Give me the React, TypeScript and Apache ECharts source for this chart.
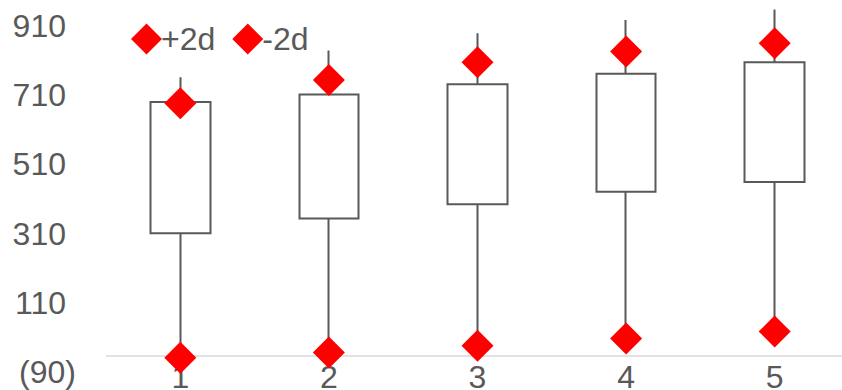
import React, { useEffect, useRef } from "react";
import * as echarts from "echarts";

const categories = ["1", "2", "3", "4", "5"];
// candlestick style: [boxBottom, boxTop, whiskerLow, whiskerHigh]
const boxBottom = [311, 354, 395, 431, 459];
const boxTop = [690, 712, 742, 772, 805];
const whiskerLow = [-49, -34, -14, 7, 27];
const whiskerHigh = [762, 839, 889, 927, 958];
const plus2d = [687, 754, 805, 836, 860];
const minus2d = [-49, -34, -14, 7, 27];
const yTicks = [-90, 110, 310, 510, 710, 910];
const axisCross = -44;

const FONT = "'Liberation Sans', Arial, sans-serif";
const TEXT = "#595959";
const FS = 32;

export default function App() {
  const ref = useRef<HTMLDivElement>(null);
  useEffect(() => {
    if (!ref.current) return;
    const chart = echarts.init(ref.current, null, { renderer: "svg" });
    const candle = categories.map((_, i) => [boxBottom[i], boxTop[i], whiskerLow[i], whiskerHigh[i]]);
    chart.setOption({
      animation: false,
      textStyle: { fontFamily: FONT },
      legend: {
        data: ["+2d", "-2d"],
        left: 126,
        top: 18,
        icon: "diamond",
        itemWidth: 31,
        itemHeight: 31,
        itemGap: 17,
        textStyle: { fontSize: FS, color: TEXT, fontFamily: FONT, padding: [0, 0, 0, -6] },
      },
      grid: { left: 106, right: -7, top: 26, bottom: 18, containLabel: false, outerBoundsMode: "none" },
      xAxis: {
        type: "category",
        data: categories,
        offset: -16,
        axisLine: { show: false },
        axisTick: { show: false },
        axisLabel: { fontSize: FS, color: TEXT, margin: 5, fontFamily: FONT },
        splitLine: { show: false },
      },
      yAxis: {
        type: "value",
        min: yTicks[0],
        max: yTicks[yTicks.length - 1],
        interval: 200,
        axisLine: { show: false },
        axisTick: { show: false },
        splitLine: { show: false },
        axisLabel: {
          customValues: yTicks,
          fontSize: FS,
          color: TEXT,
          margin: 30,
          fontFamily: FONT,
          formatter: (v: number) => (v < 0 ? `{n|(${-v})}` : `{p|${v}}`),
          rich: {
            n: { fontSize: FS, color: TEXT, fontFamily: FONT },
            p: { fontSize: FS, color: TEXT, fontFamily: FONT, padding: [0, 10, 0, 0] },
          },
        },
      },
      series: [
        {
          type: "candlestick",
          data: candle,
          barWidth: 60,
          clip: false,
          itemStyle: {
            color: "#ffffff",
            color0: "#ffffff",
            borderColor: "#595959",
            borderColor0: "#595959",
            borderWidth: 2,
          },
          markLine: {
            silent: true,
            symbol: "none",
            label: { show: false },
            lineStyle: { color: "#d9d9d9", type: "solid", width: 1.5 },
            data: [{ yAxis: axisCross }],
            z: 1,
          },
          z: 2,
        },
        {
          name: "+2d",
          type: "scatter",
          data: plus2d,
          symbol: "diamond",
          symbolSize: 32,
          itemStyle: { color: "#ff0000", opacity: 1 },
          z: 5,
        },
        {
          name: "-2d",
          type: "scatter",
          data: minus2d,
          symbol: "diamond",
          symbolSize: 32,
          itemStyle: { color: "#ff0000", opacity: 1 },
          z: 5,
        },
      ],
    });
    return () => chart.dispose();
  }, []);
  return (
    <div
      ref={ref}
      style={{ position: "fixed", left: 0, top: 0, width: 842, height: 390, background: "#ffffff" }}
    />
  );
}
